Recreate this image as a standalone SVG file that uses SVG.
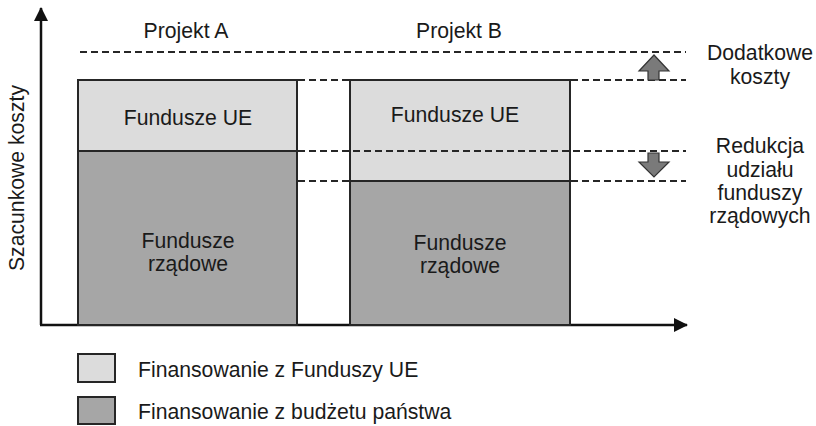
<svg xmlns="http://www.w3.org/2000/svg" width="816" height="426" viewBox="0 0 816 426">
  <style>
    text { font-family: "Liberation Sans", Arial, sans-serif; font-size: 21.2px; fill: #1a1a1a; }
    .c { text-anchor: middle; }
    .eu { fill: #dcdcdc; stroke: #262626; stroke-width: 2; }
    .gov { fill: #a6a6a6; stroke: #262626; stroke-width: 2; }
    .dash { stroke: #262626; stroke-width: 1.8; stroke-dasharray: 7 4; fill: none; }
    .axis { stroke: #111; stroke-width: 2.5; fill: none; }
    .shift { fill: #7a7a7a; stroke: #333; stroke-width: 1.2; }
  </style>
  <defs>
    <marker id="tip" viewBox="0 0 14 14" refX="13" refY="7" markerWidth="14" markerHeight="14" markerUnits="userSpaceOnUse" orient="auto">
      <path d="M0,0 L14,7 L0,14 Z" fill="#111"/>
    </marker>
  </defs>
  <rect width="816" height="426" fill="#ffffff"/>

  <!-- Axes -->
  <g id="axes">
    <line class="axis" x1="41" y1="325" x2="41" y2="8" marker-end="url(#tip)"/>
    <line class="axis" x1="40" y1="325" x2="687" y2="325" marker-end="url(#tip)"/>
    <text class="c" transform="translate(24,178) rotate(-90)">Szacunkowe koszty</text>
  </g>

  <!-- Project A -->
  <g id="projekt-a">
    <text class="c" x="186" y="38">Projekt A</text>
    <rect class="gov" x="78" y="151" width="219" height="174"/>
    <rect class="eu" x="78" y="80" width="219" height="71"/>
    <text class="c" x="188" y="125">Fundusze UE</text>
    <text class="c" x="188" y="248">Fundusze</text>
    <text class="c" x="188" y="271">rządowe</text>
  </g>

  <!-- Project B -->
  <g id="projekt-b">
    <text class="c" x="459" y="38">Projekt B</text>
    <rect class="gov" x="350" y="181" width="220" height="144"/>
    <rect class="eu" x="350" y="80" width="220" height="101"/>
    <text class="c" x="455" y="122">Fundusze UE</text>
    <text class="c" x="460" y="250">Fundusze</text>
    <text class="c" x="460" y="273">rządowe</text>
  </g>

  <!-- Guide lines -->
  <g id="connectors">
    <line class="dash" x1="80" y1="52" x2="686" y2="52"/>
    <line class="dash" x1="298" y1="80" x2="349" y2="80"/>
    <line class="dash" x1="571" y1="80" x2="686" y2="80"/>
    <line class="dash" x1="298" y1="151" x2="686" y2="151"/>
    <line class="dash" x1="298" y1="181" x2="349" y2="181"/>
    <line class="dash" x1="571" y1="181" x2="686" y2="181"/>
  </g>

  <!-- Change indicators -->
  <g id="dodatkowe-koszty">
    <path class="shift" d="M654,55 L669,71 L659,71 L659,80 L648,80 L648,71 L639,71 Z"/>
    <text class="c" x="760" y="60">Dodatkowe</text>
    <text class="c" x="760" y="84">koszty</text>
  </g>
  <g id="redukcja">
    <path class="shift" d="M648,153 L659,153 L659,162 L669,162 L654,177 L639,162 L648,162 Z"/>
    <text class="c" x="760" y="153">Redukcja</text>
    <text class="c" x="760" y="177">udziału</text>
    <text class="c" x="760" y="200">funduszy</text>
    <text class="c" x="760" y="223">rządowych</text>
  </g>

  <!-- Legend -->
  <g id="legenda-ue">
    <rect class="eu" x="78" y="354" width="37" height="28"/>
    <text x="138" y="377">Finansowanie z Funduszy UE</text>
  </g>
  <g id="legenda-budzet">
    <rect class="gov" x="78" y="397" width="37" height="27"/>
    <text x="138" y="419">Finansowanie z budżetu państwa</text>
  </g>
</svg>
